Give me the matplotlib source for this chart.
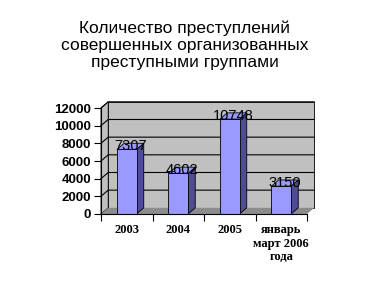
import matplotlib
matplotlib.use("Agg")
import matplotlib.pyplot as plt
from matplotlib.patches import Polygon

title = "Количество преступлений\nсовершенных организованных\nпреступными группами"
categories = ["2003", "2004", "2005", "январь\nмарт 2006\nгода"]
values = [7307, 4602, 10748, 3150]
yticks = [0, 2000, 4000, 6000, 8000, 10000, 12000]

# 3d depth offset, in data units (category / value)
DX = 0.14
DY = 700
W = 0.38

wall_c = "#c0c0c0"
floor_c = "#8c8c8c"
front_c = "#9999ff"
side_c = "#4d4d8f"

fig = plt.figure(figsize=(3.69, 2.85), dpi=100)
ax = fig.add_axes([101 / 369, 71 / 285, 206 / 369, 106 / 285])
ax.set_xlim(-0.5, 3.5)
ax.set_ylim(0, 12000)
ax.set_facecolor("none")

def poly(pts, fc, z, lw=0.6):
    p = Polygon(pts, closed=True, facecolor=fc, edgecolor="black",
                linewidth=lw, clip_on=False, zorder=z)
    ax.add_patch(p)

x0, x1 = -0.5, 3.5
top = yticks[-1]
# back wall, side wall, floor
poly([(x0 + DX, DY), (x1 + DX, DY), (x1 + DX, top + DY), (x0 + DX, top + DY)], wall_c, 0.5)
poly([(x0, 0), (x0 + DX, DY), (x0 + DX, top + DY), (x0, top)], wall_c, 0.6)
poly([(x0, 0), (x1, 0), (x1 + DX, DY), (x0 + DX, DY)], floor_c, 0.7, lw=0)

for v in yticks[1:]:
    ax.plot([x0, x0 + DX, x1 + DX], [v, v + DY, v + DY], color="black",
            linewidth=0.8, clip_on=False, zorder=0.8)

xs = range(len(values))
ax.bar(xs, values, width=W, color=front_c, edgecolor="black", linewidth=0.6, zorder=3)
for x, v in zip(xs, values):
    r = x + W / 2
    l = x - W / 2
    poly([(r, 0), (r + DX, DY), (r + DX, v + DY), (r, v)], side_c, 2.5)
    poly([(l, v), (r, v), (r + DX, v + DY), (l + DX, v + DY)], front_c, 2.5)
    ax.text(x + DX / 2, v + DY / 2, str(v), ha="center", va="center",
            fontsize=10.5, family="Liberation Sans", zorder=4)

ax.spines["top"].set_visible(False)
ax.spines["right"].set_visible(False)
ax.spines["left"].set_zorder(5)
ax.spines["bottom"].set_zorder(5)

ax.set_yticks(yticks)
ax.set_yticklabels([str(t) for t in yticks], fontsize=9.5, fontweight="bold",
                   family="Liberation Sans")
ax.tick_params(axis="y", length=5, width=0.8, pad=2, direction="out")

ax.set_xticks([-0.5, 0.5, 1.5, 2.5, 3.5])
ax.set_xticklabels([])
ax.set_xticks(list(xs), minor=True)
ax.set_xticklabels(categories, minor=True, fontsize=9, fontweight="bold",
                   family="Liberation Serif", linespacing=1.2, va="top")
ax.tick_params(axis="x", which="major", length=5, width=0.8, direction="out")
ax.tick_params(axis="x", which="minor", length=0, pad=7)

fig.text(0.5, 1 - 20 / 285, title, ha="center", va="top", fontsize=12.5,
         family="Liberation Sans", linespacing=1.2)

fig.savefig("out.png", dpi=100)
